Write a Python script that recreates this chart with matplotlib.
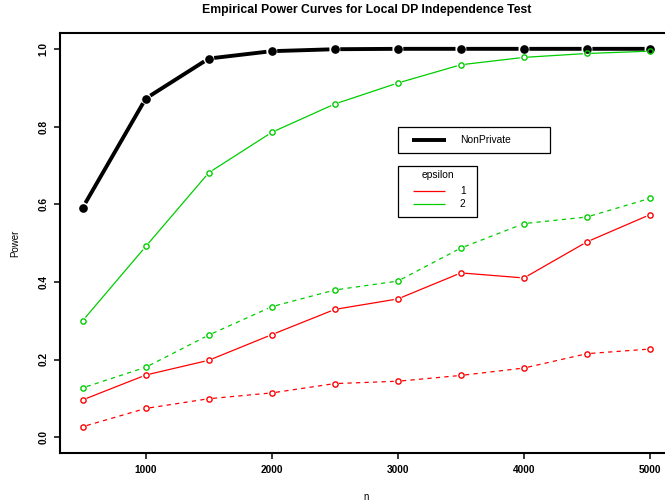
import matplotlib
matplotlib.use("Agg")
import matplotlib.pyplot as plt
from matplotlib.lines import Line2D
from matplotlib.patches import Rectangle

plt.rcParams["font.family"] = ["Liberation Sans", "DejaVu Sans"]

# sample sizes
n = [500, 1000, 1500, 2000, 2500, 3000, 3500, 4000, 4500, 5000]

# empirical power
nonprivate = [0.591, 0.872, 0.975, 0.994, 0.999, 1.0, 1.0, 1.0, 1.0, 1.0]
eps2_solid = [0.300, 0.491, 0.681, 0.785, 0.858, 0.912, 0.959, 0.978, 0.988, 0.994]
eps2_dashed = [0.127, 0.180, 0.263, 0.336, 0.379, 0.402, 0.487, 0.550, 0.567, 0.615]
eps1_solid = [0.096, 0.160, 0.198, 0.264, 0.329, 0.356, 0.423, 0.410, 0.503, 0.573]
eps1_dashed = [0.027, 0.074, 0.099, 0.114, 0.138, 0.144, 0.159, 0.178, 0.215, 0.227]

x_ticks = [1000, 2000, 3000, 4000, 5000]
y_ticks = [0.0, 0.2, 0.4, 0.6, 0.8, 1.0]
eps_labels = ["1", "2"]

RED = "#FF0000"
GREEN = "#00CD00"

W, H = 665, 504
fig = plt.figure(figsize=(W / 100, H / 100), dpi=100)


def fx(px):
    return px / W


def fy(py):
    return 1 - py / H


left, right, top, bottom = 60, 672.7, 33.3, 452.7
ax = fig.add_axes([fx(left), fy(bottom), (right - left) / W, (bottom - top) / H])

ax.set_xlim(320, 5180)
ax.set_ylim(-0.04, 1.04)


def both_plot(xs, ys, color, lw, ls, gap, z, **marker):
    """Points joined by segments that stop short of each point."""
    for i in range(len(xs) - 1):
        ax.annotate("", xy=(xs[i + 1], ys[i + 1]), xytext=(xs[i], ys[i]),
                    xycoords="data", textcoords="data", zorder=z,
                    arrowprops=dict(arrowstyle="-", color=color, lw=lw, linestyle=ls,
                                    shrinkA=gap, shrinkB=gap, capstyle="butt"))
    ax.plot(xs, ys, linestyle="none", color=color, zorder=z + 0.5, **marker)


mk = dict(marker="o", markersize=3.8, markerfacecolor="none", markeredgewidth=1.0)
both_plot(n, nonprivate, "black", 2.8, "-", 3.9, 2,
          marker="o", markersize=5.2, markerfacecolor="black", markeredgecolor="black")
both_plot(n, eps1_dashed, RED, 0.9, (0, (3.4, 3.4)), 3.0, 3, **mk)
both_plot(n, eps1_solid, RED, 0.9, "-", 3.0, 3, **mk)
both_plot(n, eps2_dashed, GREEN, 0.9, (0, (3.4, 3.4)), 3.0, 3, **mk)
both_plot(n, eps2_solid, GREEN, 0.9, "-", 3.0, 3, **mk)

ax.set_xticks(x_ticks)
ax.set_xticklabels([str(t) for t in x_ticks], fontsize=7.3, fontweight="bold")
ax.set_yticks(y_ticks)
ax.set_yticklabels([f"{t:.1f}" for t in y_ticks], fontsize=7.3, fontweight="bold",
                   rotation=90, va="center")
ax.tick_params(axis="both", direction="out", length=4.5, width=1.1, pad=4)
for s in ax.spines.values():
    s.set_linewidth(1.5)

fig.text(fx((left + right) / 2), fy(9.5),
         "Empirical Power Curves for Local DP Independence Test",
         ha="center", va="center", fontsize=8.8, fontweight="bold")
fig.text(fx(366), fy(497), "n", ha="center", va="center", fontsize=7)
fig.text(fx(15), fy(243), "Power", ha="center", va="center", fontsize=7,
         rotation=90)

# legend boxes, drawn in figure pixel positions
def box(x0, y0, x1, y1):
    fig.add_artist(Rectangle((fx(x0), fy(y1)), fx(x1) - fx(x0), fy(y0) - fy(y1),
                             transform=fig.transFigure, facecolor="white",
                             edgecolor="black", lw=0.9, zorder=5))


def key(x0, x1, y, color, lw):
    fig.add_artist(Line2D([fx(x0), fx(x1)], [fy(y), fy(y)], transform=fig.transFigure,
                          color=color, lw=lw, zorder=6, solid_capstyle="butt"))


box(397.7, 127, 550.3, 152.7)
key(412.3, 445.7, 140, "black", 2.8)
fig.text(fx(460), fy(140), "NonPrivate", ha="left", va="center", fontsize=7.4,
         zorder=7)

box(397.7, 165.7, 477.3, 217)
fig.text(fx(437.7), fy(175.5), "epsilon", ha="center", va="center", fontsize=7.4,
         zorder=7)
for yy, col, lab in zip([191.3, 204], [RED, GREEN], eps_labels):
    key(413, 445, yy, col, 0.9)
    fig.text(fx(462.7), fy(yy), lab, ha="center", va="center", fontsize=7.4, zorder=7)

fig.savefig("out.png", dpi=100)
